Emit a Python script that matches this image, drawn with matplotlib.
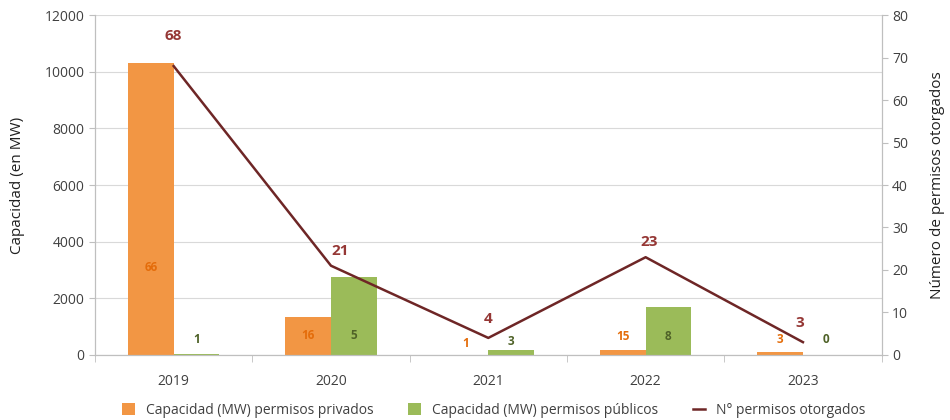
import numpy as np
import matplotlib.pyplot as plt

plt.rcParams['font.family'] = ['Open Sans', 'DejaVu Sans']

years = ['2019', '2020', '2021', '2022', '2023']
cap_privados = [10300, 1350, 0, 180, 110]
cap_publicos = [40, 2750, 180, 1700, 0]
n_privados = [66, 16, 1, 15, 3]
n_publicos = [1, 5, 3, 8, 0]
n_total = [68, 21, 4, 23, 3]

c_orange = '#F29644'
c_green = '#9BBB59'
c_line = '#6E2626'
c_grid = '#D9D9D9'
c_axis = '#BFBFBF'
c_text = '#404040'

fig = plt.figure(figsize=(9.5, 4.2), dpi=100)
ax = fig.add_axes([0.1, 0.155, 0.828, 0.809])
ax2 = ax.twinx()

x = np.arange(len(years))
w = 0.29
ax.bar(x - w / 2, cap_privados, w, color=c_orange, label='Capacidad (MW) permisos privados', zorder=2)
ax.bar(x + w / 2, cap_publicos, w, color=c_green, label='Capacidad (MW) permisos públicos', zorder=2)

ax.set_xlim(-0.5, 4.5)
ax.set_ylim(0, 12000)
ax.set_yticks(range(0, 12001, 2000))
ax.set_xticks(x)
ax.set_xticklabels(years)
ax.set_xticks(np.arange(-0.5, 4.6, 1), minor=True)
ax.tick_params(axis='x', which='major', length=0, pad=14, labelsize=10, labelcolor=c_text)
ax.tick_params(axis='x', which='minor', length=5, color=c_axis)
ax.tick_params(axis='y', length=4, color=c_axis, labelsize=10, labelcolor=c_text)
ax.yaxis.grid(True, color=c_grid, linewidth=0.8, zorder=0)
ax.set_axisbelow(True)
ax.set_ylabel('Capacidad (en MW)', fontsize=11, color='#202020', labelpad=14)

ax2.plot(x, n_total, color=c_line, linewidth=1.8, label='N° permisos otorgados', zorder=3)
ax2.set_ylim(0, 80)
ax2.set_yticks(range(0, 81, 10))
ax2.tick_params(axis='y', length=4, color=c_axis, labelsize=10, labelcolor=c_text)
ax2.set_ylabel('Número de permisos otorgados', fontsize=11, color='#202020', labelpad=16)

for a in (ax, ax2):
    a.spines['top'].set_visible(False)
    for s in ('left', 'right', 'bottom'):
        a.spines[s].set_color(c_axis)

# bar labels (number of permits)
lab_y_priv = [3100, 700, 420, 640, 530]
lab_y_pub = [530, 700, 460, 640, 530]
line_off = [(0, 7), (0.06, 3.5), (0, 4.5), (0.02, 3.5), (-0.02, 4.5)]
for i in range(len(years)):
    ax.text(x[i] - w / 2, lab_y_priv[i], str(n_privados[i]), ha='center', va='center',
            fontsize=8.5, fontweight='bold', color='#E46C0A', zorder=4)
    ax.text(x[i] + w / 2, lab_y_pub[i], str(n_publicos[i]), ha='center', va='center',
            fontsize=8.5, fontweight='bold', color='#4F6228', zorder=4)
    dx, dy = line_off[i]
    ax2.text(x[i] + dx, n_total[i] + dy, str(n_total[i]), ha='center', va='center',
             fontsize=11, fontweight='bold', color='#953735', zorder=4)

h1, l1 = ax.get_legend_handles_labels()
h2, l2 = ax2.get_legend_handles_labels()
fig.legend(h1 + h2, l1 + l2, loc='lower center', bbox_to_anchor=(0.52, -0.025), ncol=3,
           frameon=False, fontsize=10, handlelength=0.9, handleheight=0.9, columnspacing=2.5,
           labelcolor=c_text)

fig.savefig('out.png', dpi=100)
